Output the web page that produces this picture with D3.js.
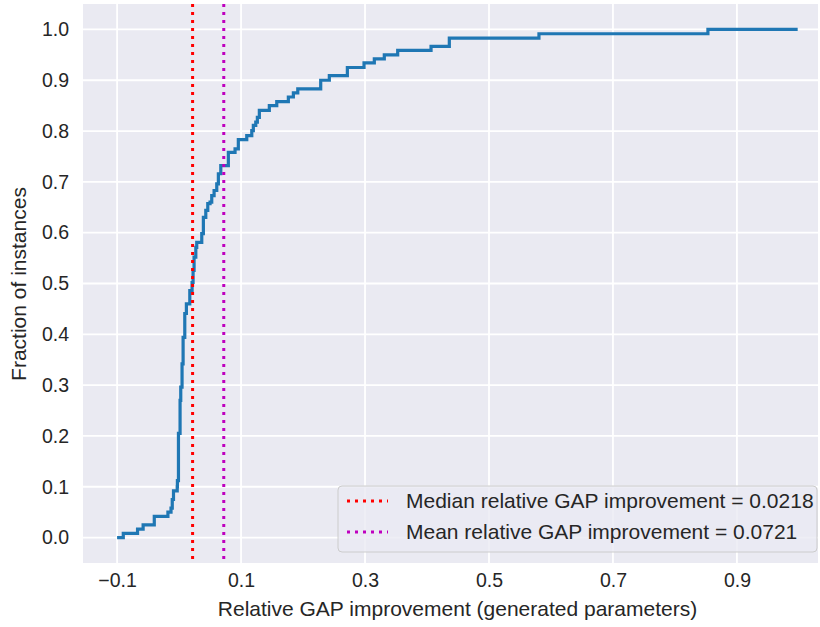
<!DOCTYPE html>
<head>
	<meta charset="utf-8">
	<title>ECDF - relative GAP improvement</title>
	<script src="https://d3js.org/d3.v7.min.js"></script>
	<style>
		body { margin: 0; background: #fff; }
		text { font-family: "Liberation Sans", Arial, sans-serif; fill: #262626; }
	</style>
</head>
<body>
<div id="viz"></div>
<script>
// step points of the ECDF: at stepX[i] the curve jumps to stepY[i]
var stepX = [-0.1, -0.090, -0.067, -0.058, -0.040, -0.018, -0.013, -0.011, -0.009, -0.003,
	-0.0027, -0.001, 0.0016, 0.0027, 0.0048, 0.0065, 0.0092, 0.0118, 0.0173, 0.021,
	0.0226, 0.0242, 0.027, 0.0285, 0.0366, 0.0392, 0.0431, 0.0463, 0.050, 0.0527,
	0.0565, 0.0608, 0.0634, 0.0673, 0.0795, 0.0903, 0.0956, 0.1092, 0.1173, 0.1198,
	0.1237, 0.1263, 0.1295, 0.1456, 0.1576, 0.1763, 0.1844, 0.1915, 0.2285, 0.2424,
	0.2715, 0.2984, 0.315, 0.3311, 0.3527, 0.4065, 0.436, 0.5806, 0.8532, 0.998];
var stepY = [0.0, 0.0083, 0.0167, 0.025, 0.0417, 0.05, 0.058, 0.075, 0.092, 0.10,
	0.112, 0.205, 0.27, 0.296, 0.342, 0.394, 0.441, 0.46, 0.486, 0.502,
	0.526, 0.552, 0.571, 0.581, 0.598, 0.630, 0.644, 0.657, 0.660, 0.673,
	0.683, 0.696, 0.716, 0.732, 0.758, 0.765, 0.783, 0.791, 0.801, 0.811,
	0.8175, 0.827, 0.8405, 0.850, 0.858, 0.867, 0.875, 0.883, 0.900, 0.909,
	0.925, 0.934, 0.942, 0.950, 0.9587, 0.9665, 0.983, 0.9915, 1.0, 1.0];

var xTicks = [-0.1, 0.1, 0.3, 0.5, 0.7, 0.9];
var yTicks = [0.0, 0.1, 0.2, 0.3, 0.4, 0.5, 0.6, 0.7, 0.8, 0.9, 1.0];

var medianGap = 0.0218;
var meanGap = 0.0721;
var legendLabels = ["Median relative GAP improvement = 0.0218",
	"Mean relative GAP improvement = 0.0721"];

var W = 820, H = 627;
var plot = {left: 83, right: 818, top: 4, bottom: 563};

var svg = d3.select("#viz").append("svg")
	.attr("width", W)
	.attr("height", H);

// matplotlib style 5% margins around the data
var x = d3.scaleLinear().domain([-0.155, 1.055]).range([83, 833]);
var y = d3.scaleLinear().domain([-0.05, 1.05]).range([plot.bottom, plot.top]);

svg.append("rect")
	.attr("x", plot.left).attr("y", plot.top)
	.attr("width", plot.right - plot.left)
	.attr("height", plot.bottom - plot.top)
	.attr("fill", "#eaeaf2");

// grid
svg.append("g").selectAll("line").data(xTicks).join("line")
	.attr("x1", d => x(d)).attr("x2", d => x(d))
	.attr("y1", plot.top).attr("y2", plot.bottom)
	.attr("stroke", "#fff").attr("stroke-width", 1.8);
svg.append("g").selectAll("line").data(yTicks).join("line")
	.attr("x1", plot.left).attr("x2", plot.right)
	.attr("y1", d => y(d)).attr("y2", d => y(d))
	.attr("stroke", "#fff").attr("stroke-width", 1.8);

// axes (labels only, seaborn darkgrid has no spines/ticks)
var xAxis = svg.append("g")
	.attr("transform", "translate(0," + plot.bottom + ")")
	.call(d3.axisBottom(x).tickValues(xTicks).tickSize(0).tickPadding(10)
		.tickFormat(d => d < 0 ? "\u2212" + Math.abs(d).toFixed(1) : d.toFixed(1)));
var yAxis = svg.append("g")
	.attr("transform", "translate(" + plot.left + ",0)")
	.call(d3.axisLeft(y).tickValues(yTicks).tickSize(0).tickPadding(14)
		.tickFormat(d3.format(".1f")));
svg.selectAll(".domain").remove();
svg.selectAll(".tick text")
	.attr("font-family", "'Liberation Sans', Arial, sans-serif")
	.attr("font-size", 19.5)
	.attr("fill", "#262626");

svg.append("text")
	.attr("x", (plot.left + plot.right) / 2 + 7)
	.attr("y", 616)
	.attr("text-anchor", "middle")
	.attr("font-size", 21)
	.text("Relative GAP improvement (generated parameters)");

svg.append("text")
	.attr("transform", "translate(26," + 284 + ") rotate(-90)")
	.attr("text-anchor", "middle")
	.attr("font-size", 21)
	.text("Fraction of instances");

// ECDF line
var pts = stepX.map((d, i) => [d, stepY[i]]);
svg.append("path")
	.datum(pts)
	.attr("fill", "none")
	.attr("stroke", "#1f77b4")
	.attr("stroke-width", 3.2)
	.attr("d", d3.line().x(d => x(d[0])).y(d => y(d[1])).curve(d3.curveStepAfter));

// median / mean markers
var vlines = [{v: medianGap, c: "#ff0000"}, {v: meanGap, c: "#bf00bf"}];
svg.append("g").selectAll("line").data(vlines).join("line")
	.attr("x1", d => x(d.v)).attr("x2", d => x(d.v))
	.attr("y1", plot.top).attr("y2", plot.bottom)
	.attr("stroke", d => d.c)
	.attr("stroke-width", 3)
	.attr("stroke-dasharray", "3 5");

// legend
var lg = svg.append("g").attr("transform", "translate(338,486)");
lg.append("rect")
	.attr("width", 479).attr("height", 66)
	.attr("rx", 4)
	.attr("fill", "#eaeaf2").attr("fill-opacity", 0.8)
	.attr("stroke", "#cccccc").attr("stroke-width", 1);
legendLabels.forEach(function(t, i) {
	var yy = 15 + i * 31;
	lg.append("line")
		.attr("x1", 9).attr("x2", 50)
		.attr("y1", yy).attr("y2", yy)
		.attr("stroke", vlines[i].c)
		.attr("stroke-width", 3)
		.attr("stroke-dasharray", "3 5");
	lg.append("text")
		.attr("x", 68).attr("y", yy + 7)
		.attr("font-size", 21)
		.text(t);
});
</script>
</body>
</html>
